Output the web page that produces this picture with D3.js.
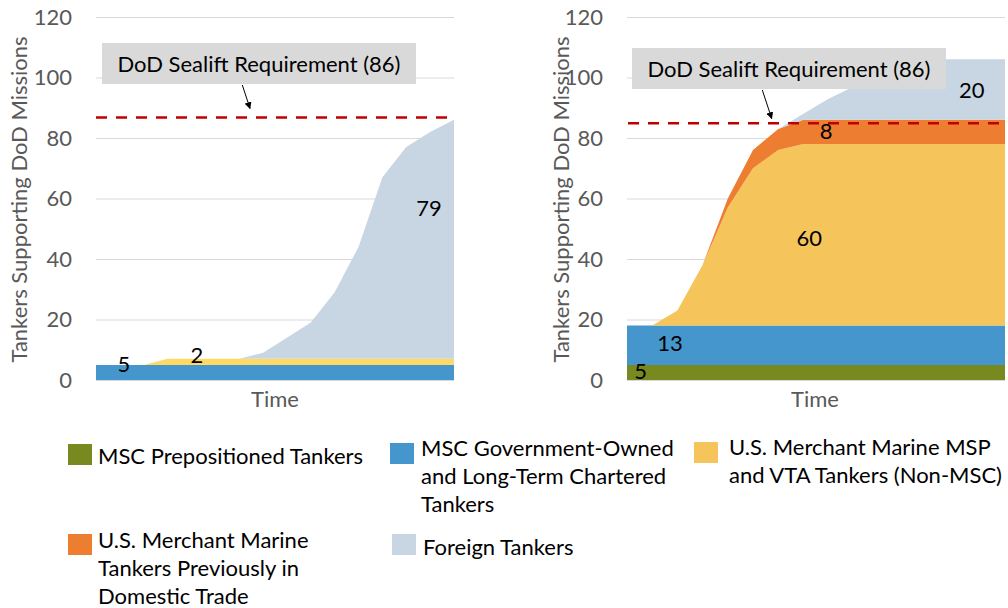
<!DOCTYPE html>
<html><head><meta charset="utf-8">
<script src="https://cdn.jsdelivr.net/npm/d3@7"></script>
<style>
body{margin:0;background:#fff}
svg{display:block}
text{font-family:Lato,"Open Sans",sans-serif}
</style>
</head><body>
<svg id="chart" width="1008" height="608"></svg>
<script>
// ---------------- DATA ----------------
const timeSteps = [0,1,2,3,4,5,6,7,8,9,10,11,12,13,14,15];
const yTicks = [0,20,40,60,80,100,120];
const seriesKeys = ["prepo","gov","msp","domestic","foreign"];
const seriesNames = [
  "MSC Prepositioned Tankers",
  "MSC Government-Owned and Long-Term Chartered Tankers",
  "U.S. Merchant Marine MSP and VTA Tankers (Non-MSC)",
  "U.S. Merchant Marine Tankers Previously in Domestic Trade",
  "Foreign Tankers"
];
// Left panel
const leftPrepositioned = [0,0,0,0,0,0,0,0,0,0,0,0,0,0,0,0];
const leftGovOwned      = [5,5,5,5,5,5,5,5,5,5,5,5,5,5,5,5];
const leftMspVta        = [0,0,0,2,2,2,2,2,2,2,2,2,2,2,2,2];
const leftDomestic      = [0,0,0,0,0,0,0,0,0,0,0,0,0,0,0,0];
const leftForeign       = [0,0,0,0,0,0,0,2,7,12,22,37,60,70,75,79];
// Right panel
const rightPrepositioned = [5,5,5,5,5,5,5,5,5,5,5,5,5,5,5,5];
const rightGovOwned      = [13,13,13,13,13,13,13,13,13,13,13,13,13,13,13,13];
const rightMspVta        = [0,0,5,20,39,52,58,60,60,60,60,60,60,60,60,60];
const rightDomestic      = [0,0,0,0,3,6,7,8,8,8,8,8,8,8,8,8];
const rightForeign       = [0,0,0,0,0,0,0,2,7,11,16,20,20,20,20,20];

const requirementLabel = "DoD Sealift Requirement (86)";
const requirementLevels = [86.8, 84.9];   // drawn level of the dashed line, left / right
const yAxisTitle = "Tankers Supporting DoD Missions";
const xAxisTitle = "Time";

// ---------------- STYLE / LAYOUT ----------------
const colors = {prepo:"#77891F", gov:"#4596CC", msp:"#F5C45A", domestic:"#ED7D31", foreign:"#C8D5E2"};
const leftMspColor = "#FFD966";
const FS = 22;

const panels = [
  { series:[leftPrepositioned,leftGovOwned,leftMspVta,leftDomestic,leftForeign],
    req:requirementLevels[0], mspColor:leftMspColor,
    x0:96, x1:454, tickX:72, titleX:18, timeX:275,
    lineX:[96,454],
    box:{x:102,y:43,w:314,h:41}, arrow:[242.3,85,250,108.5],
    labels:[ {s:1,i:0,t:1.17,v:5.6}, {s:2,i:15,t:4.23,v:8.3}, {s:4,i:15,t:13.95,v:56.9} ] },
  { series:[rightPrepositioned,rightGovOwned,rightMspVta,rightDomestic,rightForeign],
    req:requirementLevels[1], mspColor:colors.msp,
    x0:627, x1:1005, tickX:603, titleX:560, timeX:815,
    lineX:[628,1007],
    box:{x:632,y:48,w:314,h:41}, arrow:[762.3,90,771.7,118.5],
    labels:[ {s:0,i:0,t:0.54,v:3.1}, {s:1,i:0,t:1.71,v:12.3}, {s:2,i:15,t:7.23,v:47},
             {s:3,i:15,t:7.9,v:82.6}, {s:4,i:15,t:13.68,v:96.1} ] }
];

const svg = d3.select("#chart");
svg.append("rect").attr("width",1008).attr("height",608).attr("fill","#fff");
const defs = svg.append("defs");
defs.append("marker").attr("id","arrowhead").attr("viewBox","0 0 10 10")
  .attr("refX",9).attr("refY",5).attr("markerWidth",7).attr("markerHeight",7)
  .attr("orient","auto").attr("markerUnits","userSpaceOnUse")
  .append("path").attr("d","M0,0 L10,5 L0,10 z").attr("fill","#000");

panels.forEach(p => {
  const g = svg.append("g");
  const x = d3.scaleLinear().domain([timeSteps[0], timeSteps[timeSteps.length-1]]).range([p.x0,p.x1]);
  const y = d3.scaleLinear().domain([0,120]).range([380,17]);

  // axis + gridlines
  const ax = g.append("g").attr("transform",`translate(${p.x0},0)`)
    .call(d3.axisLeft(y).tickValues(yTicks).tickSize(-(p.x1-p.x0)).tickPadding(p.x0-p.tickX));
  ax.select(".domain").remove();
  ax.selectAll("line").attr("stroke","#D9D9D9").attr("stroke-width",1);
  ax.selectAll("text").attr("fill","#595959").attr("font-size",FS).attr("font-family","Lato");

  // stacked areas
  const rows = timeSteps.map((t,i) => {
    const r = {t};
    seriesKeys.forEach((k,j) => r[k] = p.series[j][i]);
    return r;
  });
  const stacked = d3.stack().keys(seriesKeys)(rows);
  const area = d3.area().x(d => x(d.data.t)).y0(d => y(d[0])).y1(d => y(d[1]));
  g.selectAll("path.layer").data(stacked).join("path")
    .attr("class","layer")
    .attr("d", area)
    .attr("fill", d => d.key === "msp" ? p.mspColor : colors[d.key]);

  // requirement dashed line
  g.append("line").attr("x1",p.lineX[0]).attr("x2",p.lineX[1])
    .attr("y1",y(p.req)).attr("y2",y(p.req))
    .attr("stroke","#C00000").attr("stroke-width",2.5).attr("stroke-dasharray","11 9");

  // data labels
  p.labels.forEach(l => {
    g.append("text").attr("x",x(l.t)).attr("y",y(l.v))
      .attr("text-anchor","middle").attr("dominant-baseline","central")
      .attr("font-size",FS).attr("fill","#000")
      .text(p.series[l.s][l.i]);
  });

  // annotation box
  g.append("rect").attr("x",p.box.x).attr("y",p.box.y).attr("width",p.box.w).attr("height",p.box.h)
    .attr("fill","#D9D9D9");
  g.append("text").attr("x",p.box.x+p.box.w/2).attr("y",p.box.y+p.box.h/2)
    .attr("text-anchor","middle").attr("dominant-baseline","central")
    .attr("font-size",FS).attr("fill","#000").text(requirementLabel);
  g.append("line").attr("x1",p.arrow[0]).attr("y1",p.arrow[1]).attr("x2",p.arrow[2]).attr("y2",p.arrow[3])
    .attr("stroke","#000").attr("stroke-width",1).attr("marker-end","url(#arrowhead)");

  // axis titles
  g.append("text").attr("transform",`translate(${p.titleX},${(y(0)+y(120))/2+1}) rotate(-90)`)
    .attr("text-anchor","middle").attr("dominant-baseline","central")
    .attr("font-size",FS).attr("fill","#595959").text(yAxisTitle);
  g.append("text").attr("x",p.timeX).attr("y",398)
    .attr("text-anchor","middle").attr("dominant-baseline","central")
    .attr("font-size",FS).attr("fill","#595959").text(xAxisTitle);
});

// ---------------- LEGEND ----------------
const legendLines = [
  ["MSC Prepositioned Tankers"],
  ["MSC Government-Owned","and Long-Term Chartered","Tankers"],
  ["U.S. Merchant Marine MSP","and VTA Tankers (Non-MSC)"],
  ["U.S. Merchant Marine","Tankers Previously in","Domestic Trade"],
  ["Foreign Tankers"]
];
const legendPos = [
  {sx:68, sy:444, tx:98, ty:455},
  {sx:390, sy:443, tx:421, ty:447},
  {sx:694, sy:442, tx:729, ty:446},
  {sx:68, sy:534, tx:98, ty:539},
  {sx:392, sy:534, tx:423, ty:546}
];
const lg = svg.append("g");
seriesKeys.forEach((k,i) => {
  const pos = legendPos[i];
  lg.append("rect").attr("x",pos.sx).attr("y",pos.sy).attr("width",24).attr("height",21)
    .attr("fill",colors[k]);
  const t = lg.append("text").attr("font-size",FS).attr("fill","#000");
  legendLines[i].forEach((ln,j) => {
    t.append("tspan").attr("x",pos.tx).attr("y",pos.ty + j*28)
      .attr("dominant-baseline","central").text(ln);
  });
});
</script>
</body></html>
